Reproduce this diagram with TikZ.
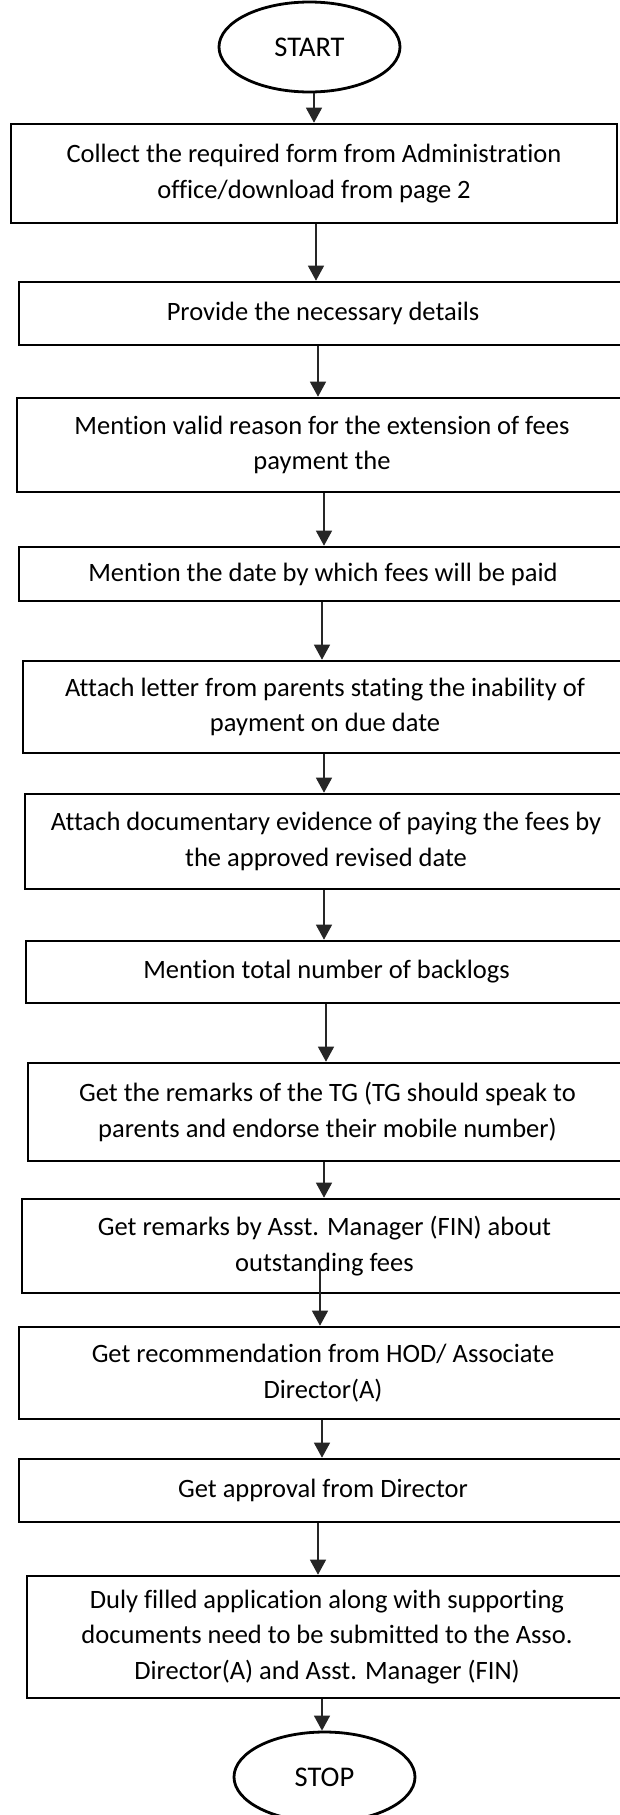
\documentclass[tikz,border=0pt]{standalone}
\usepackage{fontspec}
\setmainfont{Carlito}[Ligatures=NoCommon]
\usetikzlibrary{shapes.geometric,arrows.meta}
\begin{document}
\begin{tikzpicture}[x=1pt,y=-1pt,
  txt/.style={font=\fontsize{26.5}{35.5}\selectfont},
  stepbox/.style={txt,draw=black,line width=2.6pt,rectangle,inner sep=0pt,align=center},
  term/.style={font=\fontsize{28.5}{34}\selectfont,draw=black,line width=2.8pt,ellipse,inner sep=0pt,minimum width=181pt,minimum height=90pt},
  arr/.style={draw=black!85,line width=1.3pt,-{Triangle[length=15pt,width=16pt]}}]
\useasboundingbox (0,0) rectangle (620,1815);
\clip (0,0) rectangle (620,1815);

\node[term] (start) at (309.5,47) {START};
\node[stepbox,minimum width=606pt,minimum height=99pt] (b1) at (314,173.5) {Collect the required form from Administration\\office/download from page 2};
\node[stepbox,minimum width=608pt,minimum height=63pt] (b2) at (323,313.5) {Provide the necessary details};
\node[stepbox,minimum width=610pt,minimum height=94pt] (b3) at (322,445) {Mention valid reason for the extension of fees\\payment the};
\node[stepbox,minimum width=608pt,minimum height=54pt] (b4) at (323,574) {Mention the date by which fees will be paid};
\node[stepbox,minimum width=604pt,minimum height=92pt] (b5) at (325,707) {Attach letter from parents stating the inability of\\payment on due date};
\node[stepbox,minimum width=602pt,minimum height=95pt] (b6) at (326,841.5) {Attach documentary evidence of paying the fees by\\the approved revised date};
\node[stepbox,minimum width=601pt,minimum height=62pt] (b7) at (326.5,972) {Mention total number of backlogs};
\node[stepbox,minimum width=599pt,minimum height=98pt] (b8) at (327.5,1112) {Get the remarks of the TG (TG should speak to\\parents and endorse their mobile number)};
\node[stepbox,minimum width=605pt,minimum height=94pt] (b9) at (324.5,1246) {Get remarks by Asst. Manager (FIN) about\\outstanding fees};
\node[stepbox,minimum width=608pt,minimum height=92pt] (b10) at (323,1373) {Get recommendation from HOD/ Associate\\Director(A)};
\node[stepbox,minimum width=608pt,minimum height=63pt] (b11) at (323,1490.5) {Get approval from Director};
\node[stepbox,minimum width=600pt,minimum height=122pt] (b12) at (327,1637) {Duly filled application along with supporting\\documents need to be submitted to the Asso.\\Director(A) and Asst. Manager (FIN)};
\node[term] (stop) at (324.5,1777) {STOP};

\coordinate (a9) at (320,1267);

\draw[arr] (start.south -| 314,0) -- (b1.north -| 314,0);
\draw[arr] (b1.south -| 316,0) -- (b2.north -| 316,0);
\draw[arr] (b2.south -| 318,0) -- (b3.north -| 318,0);
\draw[arr] (b3.south -| 324,0) -- (b4.north -| 324,0);
\draw[arr] (b4.south -| 322,0) -- (b5.north -| 322,0);
\draw[arr] (b5.south -| 324,0) -- (b6.north -| 324,0);
\draw[arr] (b6.south -| 324,0) -- (b7.north -| 324,0);
\draw[arr] (b7.south -| 326,0) -- (b8.north -| 326,0);
\draw[arr] (b8.south -| 324,0) -- (b9.north -| 324,0);
\draw[arr] (a9) -- (b10.north -| a9);
\draw[arr] (b10.south -| 322,0) -- (b11.north -| 322,0);
\draw[arr] (b11.south -| 318,0) -- (b12.north -| 318,0);
\draw[arr] (b12.south -| 322,0) -- (stop.north -| 322,0);
\end{tikzpicture}
\end{document}
